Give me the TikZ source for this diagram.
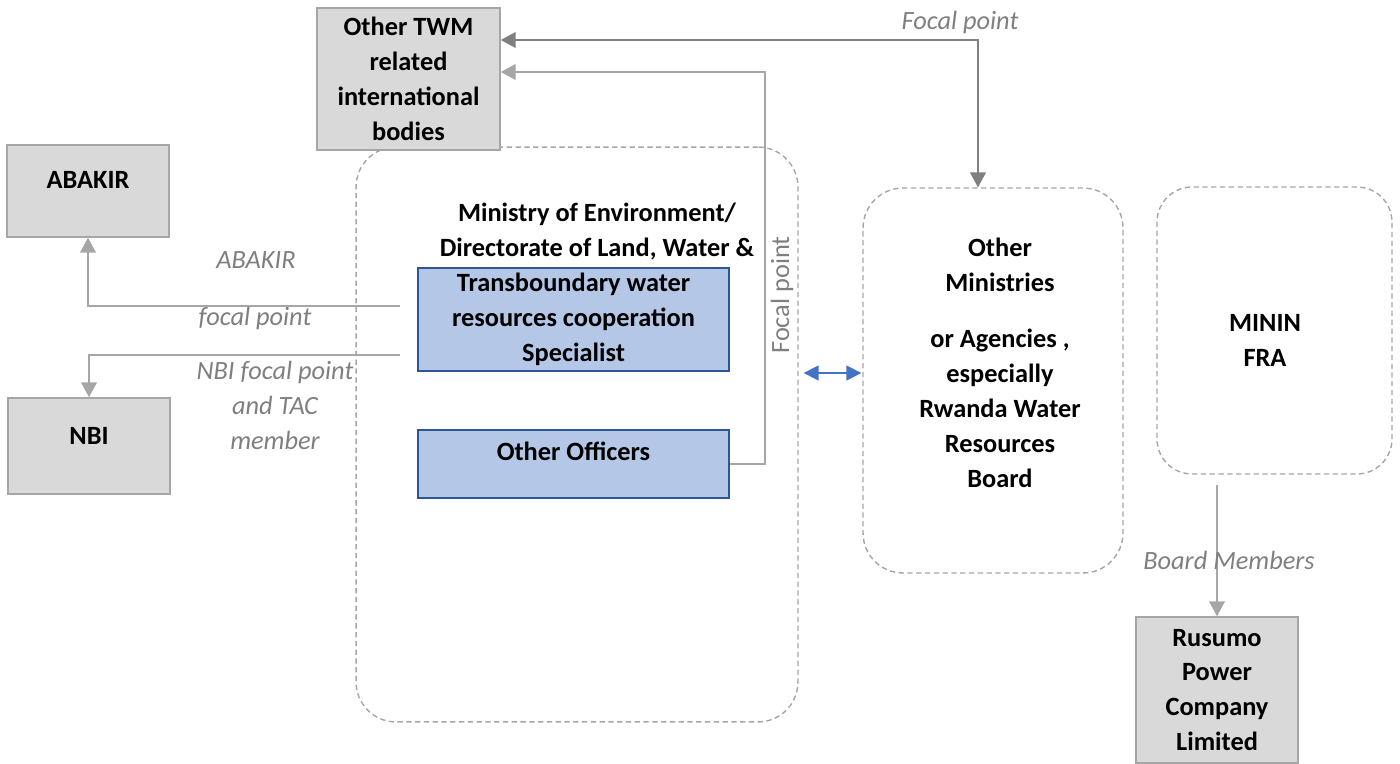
\documentclass[tikz,border=0pt]{standalone}
\usepackage{fontspec}
\setmainfont{Carlito}
\usetikzlibrary{arrows.meta, positioning, calc}
\definecolor{boxgray}{HTML}{D9D9D9}
\definecolor{edgegray}{HTML}{A6A6A6}
\definecolor{darkline}{HTML}{808080}
\definecolor{labelgray}{HTML}{7F7F7F}
\definecolor{officeblue}{HTML}{B4C7E7}
\definecolor{officeedge}{HTML}{2F5597}
\definecolor{linkblue}{HTML}{4472C4}

\begin{document}
\begin{tikzpicture}[
    x=0.02cm, y=-0.02cm,
    body/.style={draw=edgegray, line width=0.9pt, fill=boxgray, minimum width=3.24cm, inner sep=2pt, font=\fontsize{15}{19.9}\selectfont\bfseries, align=center},
    office/.style={draw=officeedge, line width=0.9pt, fill=officeblue, minimum width=6.22cm, inner sep=2pt, font=\fontsize{15}{19.9}\selectfont\bfseries, align=center},
    group/.style={draw=edgegray, line width=0.8pt, dash pattern=on 3pt off 2pt, rounded corners=0.8cm, inner sep=0pt},
    title/.style={font=\fontsize{15}{19.9}\selectfont\bfseries, align=center},
    lbl/.style={font=\fontsize{15}{19.9}\selectfont\itshape, text=labelgray, align=center},
    arr/.style={-{Triangle[length=8.5pt, width=9pt]}, line width=0.9pt, color=edgegray},
    arrD/.style={{Triangle[length=8.5pt, width=9pt]}-{Triangle[length=8.5pt, width=9pt]}, line width=0.9pt, color=darkline},
    biarr/.style={{Triangle[length=8.5pt, width=8.5pt]}-{Triangle[length=8.5pt, width=8.5pt]}, line width=0.9pt, color=linkblue},
]
\useasboundingbox (0,0) rectangle (1400,764);

% Groups (dashed containers)
\node[group, minimum width=8.84cm, minimum height=11.5cm] (ministry) at (577,434.5) {};
\node[group, minimum width=5.2cm, minimum height=7.7cm] (omin) at (993,380.5) {};
\node[group, minimum width=4.7cm, minimum height=5.74cm, rounded corners=0.7cm] (minin) at (1274.5,330.5) {};

% Outside bodies
\node[body, minimum width=3.66cm, minimum height=2.84cm] (twm) at (408.5,79) {Other TWM\\related\\international\\bodies};
\node[body, minimum height=1.84cm, text depth=13pt] (abakir) at (88,191) {ABAKIR};
\node[body, minimum height=1.92cm, text depth=12pt] (nbi) at (89,446) {NBI};
\node[body, minimum height=2.92cm] (rusumo) at (1217,690) {Rusumo\\Power\\Company\\Limited};

% Ministry content
\node[title] (mintitle) at (597,232) {Ministry of Environment/\\Directorate of Land, Water \&};
\node[office, minimum height=2.06cm] (twrcs) at (573.5,319.5) {Transboundary water\\resources cooperation\\Specialist};
\node[office, minimum height=1.36cm, text depth=15pt] (officers) at (573.5,464) {Other Officers};

% Other ministries and MININFRA
\node[title] (omintext) at (1000,363) {Other\\Ministries\\[12pt]or Agencies ,\\especially\\Rwanda Water\\Resources\\Board};
\node[title] (minintext) at (1265,340) {MININ\\FRA};

% Connectors
\coordinate (abakirstart) at (400,306);
\coordinate (nbistart) at (400,355);
\draw[arr] (abakirstart) -| (abakir.south);
\draw[arr] (nbistart) -| (nbi.north);
\draw[arr] (officers.east) -- ++(35,0) |- ($(twm.east)+(0,-7)$);
\draw[arrD] ($(twm.east)+(0,-39)$) -| ($(omin.north)+(-15,0)$);
\draw[biarr] ($(ministry.east)+(5,-61.5)$) -- ($(omin.west)+(-1,-7.5)$);
\draw[arr] (rusumo.north |- 0,485) -- (rusumo.north);

% Connector labels
\node[lbl] (lfocaltop) at (960,22) {Focal point};
\node[lbl] (labakir1) at (256,260) {ABAKIR};
\node[lbl] (labakir2) at (255,318) {focal point};
\node[lbl] (lnbi) at (275,405) {NBI focal point\\and TAC\\member};
\node[lbl] (lboard) at (1229,560) {Board Members};
\node[font=\fontsize{15}{19.9}\selectfont, text=labelgray, rotate=90] (lfocalside) at (782,295) {Focal point};

\end{tikzpicture}
\end{document}
